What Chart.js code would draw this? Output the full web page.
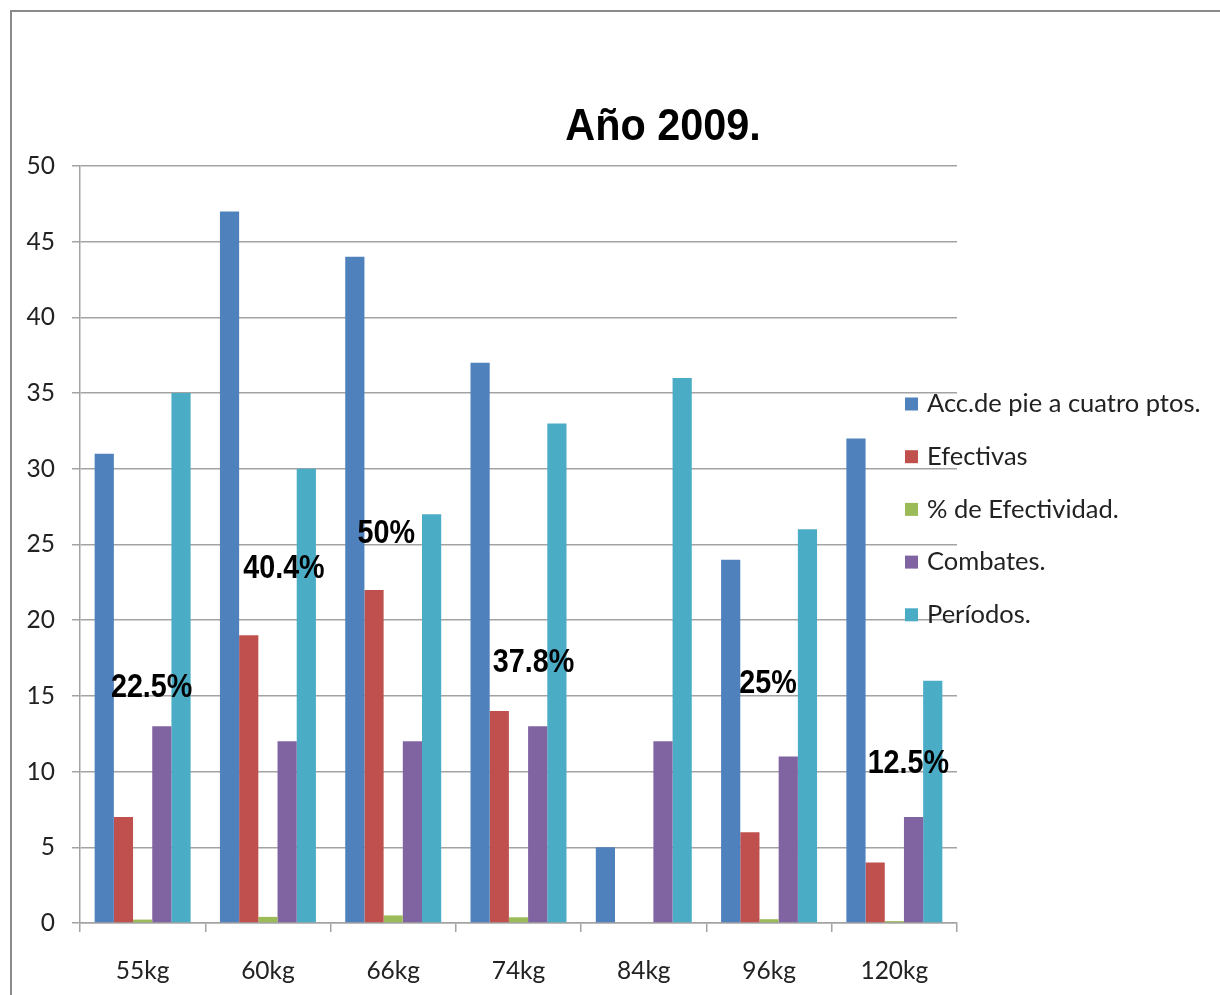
<!DOCTYPE html>
<html>
<head>
<meta charset="utf-8">
<script src="https://cdn.jsdelivr.net/npm/chart.js@4.4.0/dist/chart.umd.min.js"></script>
<style>
  html, body { margin: 0; padding: 0; background: #fff; }
  #wrap { width: 1220px; height: 995px; }
</style>
</head>
<body>
<div id="wrap"><canvas id="chart" width="1220" height="995"></canvas></div>
<script>
// Datos
const categories = ['55kg', '60kg', '66kg', '74kg', '84kg', '96kg', '120kg'];
const accionesPie = [31, 47, 44, 37, 5, 24, 32];
const efectivas = [7, 19, 22, 14, 0, 6, 4];
const efectividad = [0.225, 0.404, 0.5, 0.378, 0, 0.25, 0.125];
const combates = [13, 12, 12, 13, 12, 11, 7];
const periodos = [35, 30, 27, 33, 36, 26, 16];
const yTicks = [0, 5, 10, 15, 20, 25, 30, 35, 40, 45, 50];

// where each % label sits: baseline as a y value, plus a small x nudge in px
const labelBaseline = [14.9, 22.8, 25.1, 16.6, null, 15.2, 9.9];
const labelNudge = [9, 16, -7, 15, 0, -1, 14];

const tickFont = { family: 'Lato', size: 24.5 };
const gridGray = '#a3a3a3';

const decor = {
    id: 'decor',
    beforeDraw(chart) {
        const ctx = chart.ctx;
        ctx.save();
        ctx.fillStyle = '#ffffff';
        ctx.fillRect(0, 0, chart.width, chart.height);
        ctx.strokeStyle = '#8a8a8a';
        ctx.lineWidth = 2;
        ctx.beginPath();
        ctx.moveTo(11, chart.height);
        ctx.lineTo(11, 11);
        ctx.lineTo(chart.width, 11);
        ctx.stroke();
        ctx.restore();
    },
    afterDatasetsDraw(chart) {
        // percentage labels for the green series
        const ctx = chart.ctx;
        const meta = chart.getDatasetMeta(2);
        const y = chart.scales.y;
        ctx.save();
        ctx.fillStyle = '#000';
        ctx.font = 'bold 33px "Liberation Sans", Arial, sans-serif';
        ctx.textAlign = 'center';
        ctx.textBaseline = 'alphabetic';
        efectividad.forEach((v, i) => {
            if (!v || labelBaseline[i] == null) return;
            const txt = (Math.round(v * 1000) / 10) + '%';
            ctx.save();
            ctx.translate(meta.data[i].x + labelNudge[i], y.getPixelForValue(labelBaseline[i]));
            ctx.scale(0.87, 1);
            ctx.fillText(txt, 0, 0);
            ctx.restore();
        });
        ctx.restore();
    },
    afterDraw(chart) {
        const ctx = chart.ctx;
        // title
        ctx.save();
        ctx.fillStyle = '#000';
        ctx.font = 'bold 44px "Liberation Sans", Arial, sans-serif';
        ctx.textAlign = 'center';
        ctx.textBaseline = 'alphabetic';
        ctx.translate(663, 140);
        ctx.scale(0.94, 1);
        ctx.fillText('Año 2009.', 0, 0);
        ctx.restore();

        // legend
        ctx.save();
        ctx.font = '25.5px Lato, sans-serif';
        ctx.textAlign = 'left';
        ctx.textBaseline = 'middle';
        chart.data.datasets.forEach((ds, i) => {
            const cy = 404 + i * 52.7;
            ctx.fillStyle = ds.backgroundColor;
            ctx.fillRect(905, cy - 6.5, 13, 13);
            ctx.fillStyle = '#222';
            ctx.fillText(ds.label, 927, cy);
        });
        ctx.restore();
    }
};

new Chart(document.getElementById('chart').getContext('2d'), {
    type: 'bar',
    data: {
        labels: categories,
        datasets: [
            { label: 'Acc.de pie a cuatro ptos.', data: accionesPie, backgroundColor: '#4F81BD' },
            { label: 'Efectivas', data: efectivas, backgroundColor: '#C0504D' },
            { label: '% de Efectividad.', data: efectividad, backgroundColor: '#9BBB59' },
            { label: 'Combates.', data: combates, backgroundColor: '#8064A2' },
            { label: 'Períodos.', data: periodos, backgroundColor: '#4BACC6' }
        ]
    },
    options: {
        responsive: false,
        animation: false,
        layout: { padding: { top: 166, right: 263, bottom: 0, left: 0 } },
        datasets: {
            bar: { categoryPercentage: 0.766, barPercentage: 1, borderWidth: 0 }
        },
        plugins: {
            legend: { display: false },
            title: { display: false },
            tooltip: { enabled: false }
        },
        scales: {
            x: {
                grid: { drawOnChartArea: false, drawTicks: true, tickLength: 9, color: gridGray, lineWidth: 1.5 },
                border: { display: true, color: gridGray, width: 1.5 },
                ticks: { padding: 24, font: tickFont, color: '#222' },
                afterFit: s => { s.height = 72; }
            },
            y: {
                min: 0,
                max: 50,
                afterBuildTicks: s => { s.ticks = yTicks.map(v => ({ value: v })); },
                grid: { color: gridGray, lineWidth: 1.5, tickLength: 8 },
                border: { display: true, color: gridGray, width: 1.5 },
                ticks: { padding: 17, font: tickFont, color: '#222' },
                afterFit: s => { s.width = 80; }
            }
        }
    },
    plugins: [decor]
});
</script>
</body>
</html>
